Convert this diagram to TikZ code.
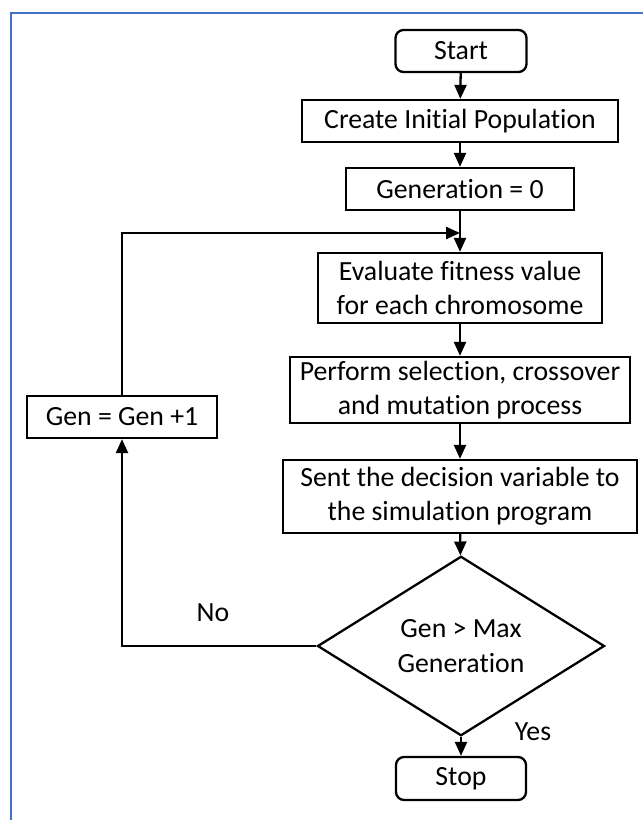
\documentclass[tikz,border=0pt]{standalone}
\usepackage{fontspec}
\setmainfont{Carlito}[Ligatures=NoCommon]
\usetikzlibrary{shapes.geometric,arrows.meta}
\definecolor{frameblue}{RGB}{68,114,196}
\begin{document}
\begin{tikzpicture}[
		font=\fontsize{15.8}{19.6}\selectfont,
		stepbox/.style={draw, line width=1.3pt, align=center, inner sep=0pt},
		termbox/.style={stepbox, rounded corners=0.16cm},
		decision/.style={draw, line width=1.3pt, diamond, align=center, inner sep=0pt},
		flow/.style={line width=1.3pt, -{Triangle[length=0.28cm,width=0.24cm]}},
	]
	\path[use as bounding box] (0,0) rectangle (12.86,-16.4);
	% frame round the figure
	\draw[frameblue, line width=1.7pt] (0.22,-16.4) -- (0.22,-0.26) -- (12.86,-0.26);
	% main column
	\node[termbox, minimum width=2.62cm, minimum height=0.84cm] (start) at (9.22,-1.02) {Start};
	\node[stepbox, minimum width=6.32cm, minimum height=0.84cm] (create) at (9.2,-2.42) {Create Initial Population};
	\node[stepbox, minimum width=4.56cm, minimum height=0.84cm] (gen0) at (9.2,-3.78) {Generation = 0};
	\node[stepbox, minimum width=5.68cm, minimum height=1.4cm] (evaluate) at (9.2,-5.76) {Evaluate fitness value\\for each chromosome};
	\node[stepbox, minimum width=6.8cm, minimum height=1.32cm] (perform) at (9.2,-7.8) {Perform selection, crossover\\and mutation process};
	\node[stepbox, minimum width=7.08cm, minimum height=1.46cm] (sent) at (9.2,-9.93) {Sent the decision variable to\\the simulation program};
	\node[decision, minimum width=5.74cm, minimum height=2.7cm] (decide) at (9.22,-12.92) {Gen > Max\\Generation};
	\node[termbox, minimum width=2.6cm, minimum height=0.86cm] (stop) at (9.22,-15.57) {Stop};
	% loop back
	\node[stepbox, minimum width=3.8cm, minimum height=0.84cm] (gencount) at (2.44,-8.34) {Gen = Gen +1};
	\coordinate (join) at (9.2,-4.66);
	\node (no) at (4.26,-12.26) {No};
	\node (yes) at (10.66,-14.64) {Yes};
	\draw[flow] (start) -- (create);
	\draw[flow] (create) -- (gen0);
	\draw[flow] (gen0) -- (evaluate);
	\draw[flow] (evaluate) -- (perform);
	\draw[flow] (perform) -- (sent);
	\draw[flow] (sent) -- (decide);
	\draw[flow] (decide) -- (stop);
	\draw[flow] (decide.west) -| (gencount.south);
	\draw[flow] (gencount.north) |- (join);
\end{tikzpicture}
\end{document}
